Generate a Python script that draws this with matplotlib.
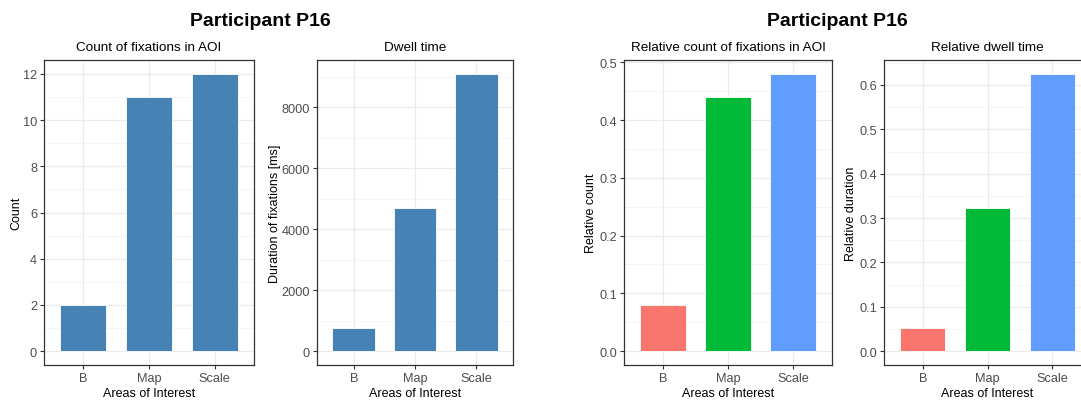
import matplotlib
matplotlib.use("Agg")
import matplotlib.pyplot as plt
from matplotlib.ticker import MultipleLocator

# ── Data ──────────────────────────────────────────────────────────────
AOIS = ["B", "Map", "Scale"]
fix_count = [2, 11, 12]
dwell_ms = [770, 4690, 9100]
rel_count = [0.08, 0.44, 0.48]
rel_dwell = [0.053, 0.322, 0.625]

STEEL = "#4682B4"
HUE = ["#F8766D", "#00BA38", "#619CFF"]

W, H = 1081, 402
plt.rcParams["font.family"] = ["Liberation Sans", "DejaVu Sans"]

fig = plt.figure(figsize=(W / 100, H / 100), dpi=100)


def px_axes(x0, x1, y0, y1):
    """Axes from pixel box (top-left origin)."""
    return fig.add_axes([x0 / W, 1 - y1 / H, (x1 - x0) / W, (y1 - y0) / H])


def bar_panel(ax, values, colors, title, ylabel, major, ylabel_x):
    ax.bar(range(len(AOIS)), values, width=0.7, color=colors,
           edgecolor="#ffffff", linewidth=0.6, zorder=3)
    top = max(values)
    ax.set_ylim(-0.05 * top, 1.05 * top)
    ax.set_xlim(-0.6, len(AOIS) - 0.4)
    ax.set_xticks(range(len(AOIS)))
    ax.set_xticklabels(AOIS)
    ax.yaxis.set_major_locator(MultipleLocator(major))
    ax.yaxis.set_minor_locator(MultipleLocator(major / 2))
    ax.grid(True, which="major", color="#EBEBEB", linewidth=0.9, zorder=0)
    ax.grid(True, which="minor", axis="y", color="#F2F2F2", linewidth=0.5, zorder=0)
    ax.tick_params(which="major", length=3, width=0.8, color="#333333",
                   labelsize=9.2, labelcolor="#4D4D4D", pad=2)
    ax.tick_params(which="minor", length=0)
    for s in ax.spines.values():
        s.set_color("#333333")
        s.set_linewidth(0.9)
    ax.set_title(title, fontsize=9.7, pad=7)
    ax.set_xlabel("Areas of Interest", fontsize=9, labelpad=2)
    ax.set_ylabel(ylabel, fontsize=9)
    bb = ax.get_position()
    ax.yaxis.set_label_coords((ylabel_x / W - bb.x0) / bb.width, 0.5)


ax1 = px_axes(44, 254, 61, 366)
bar_panel(ax1, fix_count, STEEL, "Count of fixations in AOI", "Count", 2, 22)

ax2 = px_axes(317, 513, 61, 366)
bar_panel(ax2, dwell_ms, STEEL, "Dwell time", "Duration of fixations [ms]", 2000, 281)

ax3 = px_axes(624, 832, 61, 366)
bar_panel(ax3, rel_count, HUE, "Relative count of fixations in AOI", "Relative count", 0.1, 597)

ax4 = px_axes(884, 1091, 61, 366)
bar_panel(ax4, rel_dwell, HUE, "Relative dwell time", "Relative duration", 0.1, 857)

fig.text(260 / W, 1 - 21 / H, "Participant P16", ha="center", va="center",
         fontsize=14, fontweight="bold")
fig.text(837 / W, 1 - 21 / H, "Participant P16", ha="center", va="center",
         fontsize=14, fontweight="bold")

fig.savefig("out.png", dpi=100)
